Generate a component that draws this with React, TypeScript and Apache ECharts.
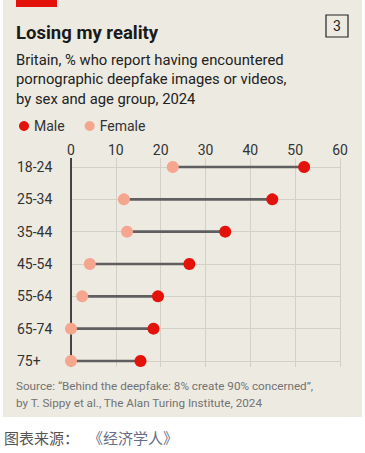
import React, { useEffect, useRef } from "react";
import * as echarts from "echarts";

const categories = ["18-24", "25-34", "35-44", "45-54", "55-64", "65-74", "75+"];
const maleValues = [52, 44.9, 34.4, 26.4, 19.4, 18.4, 15.5];
const femaleValues = [22.7, 11.8, 12.5, 4.2, 2.5, 0, 0];
const xTicks = [0, 10, 20, 30, 40, 50, 60];

const FONT = "Roboto, 'Liberation Sans', sans-serif";
const RED = "#E3120B";
const PINK = "#F6A58E";

export default function App() {
  const ref = useRef<HTMLDivElement>(null);
  useEffect(() => {
    if (!ref.current) return;
    const chart = echarts.init(ref.current, null, { renderer: "svg" });
    const lastIdx = categories.length - 1;
    chart.setOption({
      animation: false,
      backgroundColor: "#ffffff",
      textStyle: { fontFamily: FONT },
      graphic: [
        { type: "rect", z: -10, shape: { x: 3, y: 0, width: 359, height: 417 }, style: { fill: "#ECEAE1" } },
        { type: "rect", shape: { x: 16, y: 0, width: 41, height: 7 }, style: { fill: RED } },
        { type: "text", x: 16, y: 23, style: { text: "Losing my reality", font: `bold 18.5px ${FONT}`, fill: "#1a1a1a" } },
        { type: "rect", shape: { x: 326, y: 15, width: 22, height: 22 }, style: { fill: "none", stroke: "#222", lineWidth: 1.2 } },
        { type: "text", x: 337, y: 26, style: { text: "3", font: `14px ${FONT}`, fill: "#222", align: "center", verticalAlign: "middle" } },
        {
          type: "text", x: 16, y: 50,
          style: {
            text: "Britain, % who report having encountered\npornographic deepfake images or videos,\nby sex and age group, 2024",
            font: `14.8px ${FONT}`, fill: "#222", lineHeight: 19.5,
          },
        },
        {
          type: "text", x: 16, y: 377,
          style: {
            text: "Source: “Behind the deepfake: 8% create 90% concerned”,\nby T. Sippy et al., The Alan Turing Institute, 2024",
            font: `11.7px ${FONT}`, fill: "#737373", lineHeight: 17,
          },
        },
        { type: "text", x: 4, y: 437, style: { text: "图表来源：", font: `15px 'Noto Sans CJK SC'`, fill: "#555", verticalAlign: "middle" } },
        { type: "text", x: 88, y: 437, style: { text: "《经济学人》", font: `15px 'Noto Sans CJK SC'`, fill: "#666e87", verticalAlign: "middle" } },
      ],
      legend: {
        left: 14, top: 114, itemWidth: 10, itemHeight: 10, itemGap: 20,
        textStyle: { fontSize: 14, color: "#333", fontFamily: FONT },
        data: [
          { name: "Male", icon: "circle", itemStyle: { color: RED } },
          { name: "Female", icon: "circle", itemStyle: { color: PINK } },
        ],
      },
      grid: { left: 71, right: 25, top: 167, bottom: 92, containLabel: false },
      xAxis: [
        {
          type: "value", position: "top", min: 0, max: 60, interval: 10,
          axisLine: { show: false },
          axisTick: { show: true, length: 9, lineStyle: { color: "#d2d0c7", width: 1 } },
          axisLabel: { fontSize: 14, color: "#333", margin: 10, fontFamily: FONT, formatter: (v: number) => (xTicks.includes(v) ? String(v) : "") },
          splitLine: { show: true, lineStyle: { color: "#d2d0c7", width: 1 } },
        },
        {
          type: "value", position: "bottom", min: 0, max: 60, interval: 10,
          axisLine: { show: false },
          axisTick: { show: true, length: 6, lineStyle: { color: "#d2d0c7", width: 1 } },
          axisLabel: { show: false },
          splitLine: { show: false },
        },
      ],
      yAxis: {
        type: "category", data: categories, inverse: true, boundaryGap: false,
        axisLine: { show: false }, axisTick: { show: false },
        axisLabel: { fontSize: 14, color: "#333", fontFamily: FONT, align: "left", margin: 54 },
        splitLine: { show: true, lineStyle: { color: "#d2d0c7", width: 1 } },
      },
      series: [
        {
          type: "custom", name: "zero", z: 1, silent: true,
          data: [[0, 0, lastIdx]],
          renderItem: (params: any, api: any) => {
            const a = api.coord([0, api.value(1)]);
            const b = api.coord([0, api.value(2)]);
            return { type: "line", shape: { x1: a[0], y1: a[1] - 9, x2: b[0], y2: b[1] + 6 }, style: { stroke: "#1e1e1e", lineWidth: 1.6 } };
          },
        },
        {
          type: "custom", name: "connector", z: 2, silent: true,
          data: categories.map((c, i) => [femaleValues[i], maleValues[i], i]),
          renderItem: (params: any, api: any) => {
            const a = api.coord([api.value(0), api.value(2)]);
            const b = api.coord([api.value(1), api.value(2)]);
            return { type: "line", shape: { x1: a[0], y1: a[1], x2: b[0], y2: b[1] }, style: { stroke: "#5f5f5f", lineWidth: 2.6 } };
          },
        },
        {
          type: "scatter", name: "Female", z: 3, symbol: "circle", symbolSize: 12,
          itemStyle: { color: PINK, opacity: 1 },
          data: femaleValues.map((v, i) => [v, categories[i]]),
        },
        {
          type: "scatter", name: "Male", z: 4, symbol: "circle", symbolSize: 12,
          itemStyle: { color: RED, opacity: 1 },
          data: maleValues.map((v, i) => [v, categories[i]]),
        },
      ],
    });
    return () => chart.dispose();
  }, []);
  return <div ref={ref} style={{ position: "fixed", left: 0, top: 0, width: 365, height: 453 }} />;
}
